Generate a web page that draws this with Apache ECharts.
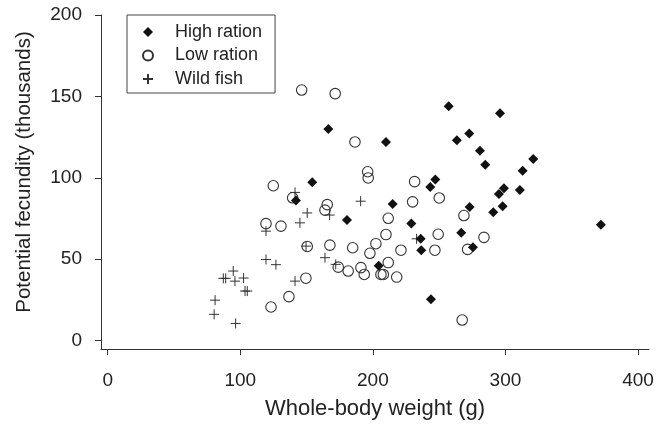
<!DOCTYPE html>
<html>
<head>
<meta charset="utf-8">
<title>Potential fecundity vs whole-body weight</title>
<script src="https://cdn.jsdelivr.net/npm/echarts@6/dist/echarts.min.js"></script>
<style>
  html, body { margin: 0; padding: 0; background: #fff; }
  #chart { width: 669px; height: 425px; }
</style>
</head>
<body>
<div id="chart"></div>
<script>
// Whole-body weight (g), potential fecundity (thousands)
const highRation = [
  [257.2, 144.0], [295.9, 139.7], [166.4, 129.9], [209.9, 121.9], [263.4, 123.1],
  [272.7, 127.2], [280.8, 116.6], [284.8, 108.0], [321.0, 111.5], [313.0, 104.3],
  [154.3, 97.2], [247.1, 99.0], [243.3, 94.3], [298.9, 93.5], [295.1, 90.0],
  [310.9, 92.5], [214.9, 83.9], [273.0, 82.1], [297.9, 82.5], [290.8, 78.8],
  [180.5, 74.1], [229.0, 71.9], [372.0, 71.1], [266.7, 66.2], [236.1, 62.5],
  [236.5, 55.5], [275.5, 57.3], [204.4, 45.9], [142.0, 86.1], [243.8, 25.3]
];

const lowRation = [
  [146.3, 153.9], [171.6, 151.7], [186.5, 122.0], [196.1, 103.7], [196.5, 99.9],
  [231.5, 97.6], [250.1, 87.6], [230.0, 85.2], [165.6, 83.5], [163.9, 80.1],
  [211.6, 75.1], [268.7, 76.8], [209.9, 65.1], [249.3, 65.3], [283.8, 63.4],
  [202.3, 59.5], [197.8, 53.6], [221.2, 55.5], [246.8, 55.5], [271.5, 56.0],
  [150.5, 57.8], [167.6, 58.6], [184.8, 57.0], [173.9, 45.1], [181.4, 42.7],
  [191.0, 44.8], [193.5, 40.6], [206.1, 40.6], [207.9, 40.6], [211.6, 47.9],
  [218.0, 39.0], [149.5, 38.3], [267.4, 12.6], [124.9, 95.1], [139.5, 87.7],
  [119.4, 71.8], [130.7, 70.3], [136.7, 27.0], [123.2, 20.6]
];

const wildFish = [
  [141.3, 91.0], [150.5, 78.4], [145.0, 72.3], [167.4, 77.1], [119.4, 67.2],
  [119.4, 49.8], [126.9, 46.6], [149.6, 58.0], [163.9, 50.9], [172.0, 46.8],
  [141.3, 36.5], [94.7, 42.7], [87.2, 38.2], [89.0, 38.2], [96.0, 36.5],
  [102.5, 38.4], [103.6, 30.4], [105.3, 30.4], [81.0, 24.8], [80.3, 16.1],
  [96.5, 10.5], [190.8, 85.6], [233.0, 62.5]
];

const xTicks = [0, 100, 200, 300, 400];
const yTicks = [0, 50, 100, 150, 200];

const FONT = '"Liberation Sans", Arial, Helvetica, sans-serif';
const INK = '#222';
const CROSS = 'path://M0 5L10 5M5 0L5 10';

const chart = echarts.init(document.getElementById('chart'), null, { renderer: 'canvas' });

const axisCommon = {
  type: 'value',
  splitLine: { show: false },
  axisLine: { show: true, onZero: false, lineStyle: { color: '#333', width: 1 } },
  axisTick: { show: true, inside: false, length: 6, lineStyle: { color: '#333', width: 1 } },
  axisLabel: { color: INK, fontSize: 19, fontFamily: FONT },
  nameLocation: 'middle',
  nameTextStyle: { color: INK, fontSize: 21, fontFamily: FONT }
};

chart.setOption({
  animation: false,
  backgroundColor: '#fff',
  grid: { left: 101, right: 20, top: 15, bottom: 75, containLabel: false },
  xAxis: Object.assign({}, axisCommon, {
    min: -5.05,
    max: 408.3,
    name: 'Whole-body weight (g)',
    nameGap: 49,
    nameTextStyle: Object.assign({}, axisCommon.nameTextStyle, { fontSize: 22 }),
    axisTick: Object.assign({}, axisCommon.axisTick, { customValues: xTicks }),
    axisLabel: Object.assign({}, axisCommon.axisLabel, { customValues: xTicks, margin: 22 })
  }),
  yAxis: Object.assign({}, axisCommon, {
    min: -5.2,
    max: 200,
    name: 'Potential fecundity (thousands)',
    nameGap: 66,
    nameTextStyle: Object.assign({}, axisCommon.nameTextStyle, { fontSize: 20.5, padding: [0, 0, 0, 20] }),
    axisTick: Object.assign({}, axisCommon.axisTick, { customValues: yTicks }),
    axisLabel: Object.assign({}, axisCommon.axisLabel, { customValues: yTicks, margin: 19 })
  }),
  legend: {
    orient: 'vertical',
    left: 127,
    top: 15,
    padding: [8, 13, 5, 15],
    itemGap: 5.5,
    itemWidth: 10,
    itemHeight: 10,
    borderColor: '#444',
    borderWidth: 1,
    backgroundColor: '#fff',
    textStyle: { color: INK, fontSize: 18, fontFamily: FONT, padding: [0, 0, 0, 17] },
    data: ['High ration', 'Low ration', 'Wild fish']
  },
  series: [
    {
      name: 'Low ration',
      type: 'scatter',
      symbol: 'circle',
      symbolSize: 10.5,
      itemStyle: { color: 'rgba(0,0,0,0)', borderColor: '#333', borderWidth: 1.1, opacity: 1 },
      data: lowRation,
      z: 2
    },
    {
      name: 'Wild fish',
      type: 'scatter',
      symbol: CROSS,
      symbolSize: 10,
      itemStyle: { color: 'rgba(0,0,0,0)', borderColor: '#333', borderWidth: 1, opacity: 1 },
      data: wildFish,
      z: 3
    },
    {
      name: 'High ration',
      type: 'scatter',
      symbol: 'diamond',
      symbolSize: 10,
      itemStyle: { color: '#111', opacity: 1 },
      data: highRation,
      z: 4
    }
  ]
});
</script>
</body>
</html>
